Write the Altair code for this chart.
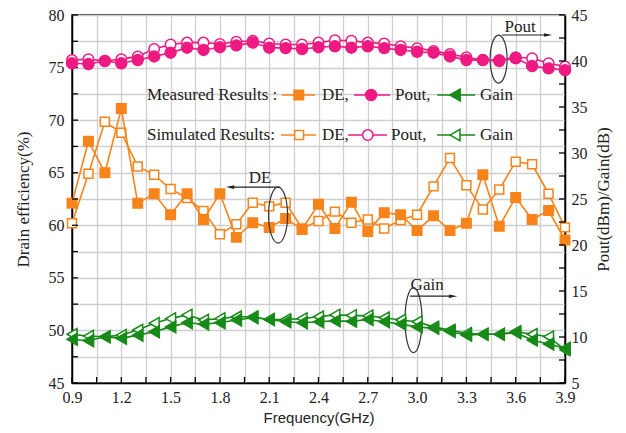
import altair as alt
import pandas as pd

# ---------------- data ----------------
freq = [0.9, 1.0, 1.1, 1.2, 1.3, 1.4, 1.5, 1.6, 1.7, 1.8, 1.9, 2.0, 2.1, 2.2, 2.3, 2.4,
        2.5, 2.6, 2.7, 2.8, 2.9, 3.0, 3.1, 3.2, 3.3, 3.4, 3.5, 3.6, 3.7, 3.8, 3.9]
de_meas = [62.1, 68.0, 65.0, 71.1, 62.1, 63.0, 61.0, 63.0, 60.55, 63.0, 58.85, 60.25, 59.8, 60.65, 59.6, 62.0,
           59.7, 62.2, 59.4, 61.2, 61.0, 59.5, 60.9, 59.5, 60.2, 64.8, 59.9, 62.65, 60.55, 61.4, 58.6]
de_sim = [60.2, 64.9, 69.85, 68.8, 65.6, 64.8, 63.45, 62.6, 61.35, 59.15, 60.1, 62.15, 61.8, 62.15, 59.7, 60.4,
          61.3, 60.25, 60.55, 59.7, 60.5, 61.0, 63.7, 66.4, 63.8, 61.5, 63.4, 66.05, 65.8, 63.0, 59.8]
pout_meas = [39.75, 39.67, 40.0, 39.75, 40.1, 40.5, 40.9, 41.45, 41.2, 41.5, 41.7, 42.0, 41.45, 41.4, 41.3, 41.5,
             41.6, 41.45, 41.6, 41.4, 41.2, 41.0, 40.9, 40.5, 40.1, 40.1, 40.0, 40.3, 39.45, 39.2, 39.0]
pout_sim = [40.1, 40.2, 40.0, 40.2, 40.5, 41.3, 41.8, 42.0, 42.0, 41.85, 42.1, 42.2, 41.9, 41.8, 41.8, 42.0,
            42.25, 42.2, 42.0, 41.9, 41.6, 41.4, 41.1, 40.75, 40.4, 40.1, 40.1, 40.4, 40.3, 39.75, 39.4]
gain_meas = [9.75, 9.6, 10.03, 9.85, 10.2, 10.57, 11.1, 11.55, 11.4, 11.55, 11.85, 12.1, 11.9, 11.65, 11.55, 11.65,
             11.75, 11.7, 11.9, 11.66, 11.4, 11.1, 10.94, 10.6, 10.2, 10.3, 10.3, 10.47, 9.67, 9.24, 8.77]
gain_sim = [10.3, 10.1, 10.03, 10.2, 10.76, 11.5, 12.0, 12.4, 11.85, 12.0, 12.2, 12.2, 11.9, 11.9, 12.0, 12.2,
            12.4, 12.35, 12.3, 12.1, 11.85, 11.66, 11.1, 10.76, 10.4, 10.3, 10.3, 10.6, 10.3, 10.03, 8.6]

x_ticks = [0.9, 1.05, 1.2, 1.35, 1.5, 1.65, 1.8, 1.95, 2.1, 2.25, 2.4, 2.55, 2.7, 2.85, 3.0, 3.15,
           3.3, 3.45, 3.6, 3.75, 3.9]
left_ticks = [45, 47.5, 50, 52.5, 55, 57.5, 60, 62.5, 65, 67.5, 70, 72.5, 75, 77.5, 80]
right_ticks = [5, 7.5, 10, 12.5, 15, 17.5, 20, 22.5, 25, 27.5, 30, 32.5, 35, 37.5, 40, 42.5, 45]

df = pd.DataFrame({"freq": freq, "de_meas": de_meas, "de_sim": de_sim,
                   "pout_meas": pout_meas, "pout_sim": pout_sim,
                   "gain_meas": gain_meas, "gain_sim": gain_sim})

# ---------------- style ----------------
W, H = 493, 368
SERIF = "Liberation Serif"
SANS = "Liberation Sans"
ORANGE = "#F7841A"
PINK = "#EE1A82"
GREEN = "#178A17"
INK = "#222222"

xscale = alt.Scale(domain=[0.9, 3.9], nice=False, zero=False)
lscale = alt.Scale(domain=[45, 80], nice=False, zero=False)
rscale = alt.Scale(domain=[5, 45], nice=False, zero=False)

x_axis = alt.Axis(values=x_ticks, grid=True, ticks=False, tickSize=0, labelFlush=False,
                  labelExpr="(round(datum.value*100) - 90) % 30 == 0 ? format(datum.value, '.1f') : ''",
                  labelPadding=6, title="Frequency(GHz)", titleFont=SANS, titleFontSize=15,
                  titlePadding=5)
l_axis = alt.Axis(values=left_ticks, grid=True, ticks=False, tickSize=0, labelFlush=False,
                  labelExpr="datum.value % 5 == 0 ? format(datum.value, 'd') : ''",
                  labelPadding=8, title="Drain efficiency(%)", titleFontSize=17, titlePadding=16)
r_axis = alt.Axis(values=right_ticks, grid=False, ticks=False, tickSize=0, orient="right",
                  labelFlush=False,
                  labelExpr="datum.value % 5 == 0 ? format(datum.value, 'd') : ''",
                  labelPadding=6, title="Pout(dBm)/Gain(dB)", titleFontSize=17,
                  titleAngle=270, titleBaseline="top", titlePadding=8)


def XL(field):
    return alt.X(f"{field}:Q", scale=xscale, axis=x_axis)


def YL(field):
    return alt.Y(f"{field}:Q", scale=lscale, axis=l_axis)


def YR(field):
    return alt.Y(f"{field}:Q", scale=rscale, axis=r_axis)


def series(field, color, shape, filled, size, yfun):
    base = alt.Chart(df).encode(x=XL("freq"), y=yfun(field))
    line = base.mark_line(color=color, strokeWidth=1.6)
    pts = base.mark_point(shape=shape, filled=True, fill=color if filled else "white",
                          stroke=color, strokeWidth=1.5, size=size, opacity=1)
    return [line, pts]


def ellipse_path(ratio):
    k = 0.5523
    rx = ratio
    return (f"M0,-1 C{k*rx:.4f},-1 {rx:.4f},{-k:.4f} {rx:.4f},0 "
            f"C{rx:.4f},{k:.4f} {k*rx:.4f},1 0,1 "
            f"C{-k*rx:.4f},1 {-rx:.4f},{k:.4f} {-rx:.4f},0 "
            f"C{-rx:.4f},{-k:.4f} {-k*rx:.4f},-1 0,-1 Z")


ARROW_R = "M-1,-0.42 L1,0 L-1,0.42 Z"
ARROW_L = "M1,-0.42 L-1,0 L1,0.42 Z"

# ---------------- left group (DE) ----------------
left_layers = []
left_layers += series("de_sim", ORANGE, "square", False, 80, YL)
left_layers += series("de_meas", ORANGE, "square", True, 90, YL)

lt = pd.DataFrame({"v": left_ticks})
left_layers.append(alt.Chart(lt).mark_rule(color="black", strokeWidth=1.3).encode(
    y=YL("v"), x=alt.value(0), x2=alt.value(6)))
bt = pd.DataFrame({"v": x_ticks})
left_layers.append(alt.Chart(bt).mark_rule(color="black", strokeWidth=1.3).encode(
    x=XL("v"), y=alt.value(H - 6), y2=alt.value(H)))

# annotations (positions in data coordinates of the left axis)
ann_text = pd.DataFrame({"x": [3.627, 2.044, 3.061], "y": [78.86, 64.49, 54.31],
                         "t": ["Pout", "DE", "Gain"]})
left_layers.append(alt.Chart(ann_text).mark_text(font=SERIF, fontSize=17, color=INK,
                                                 baseline="middle", align="center").encode(
    x=XL("x"), y=YL("y"), text="t:N"))

ann_arrow = pd.DataFrame({"x": [3.517, 2.166, 2.957], "x2": [3.797, 1.862, 3.219],
                          "y": [78.1, 63.63, 53.26], "shape": [ARROW_R, ARROW_L, ARROW_R]})
left_layers.append(alt.Chart(ann_arrow).mark_rule(color=INK, strokeWidth=1.2).encode(
    x=XL("x"), x2="x2:Q", y=YL("y")))
left_layers.append(alt.Chart(ann_arrow).mark_point(filled=True, color=INK, size=70, opacity=1).encode(
    x=XL("x2"), y=YL("y"), shape=alt.Shape("shape:N", scale=None)))

ell = pd.DataFrame({"x": [3.496, 2.154, 2.978], "y": [75.81, 60.97, 50.98],
                    "shape": [ellipse_path(17 / 48), ellipse_path(19 / 56), ellipse_path(17 / 65)],
                    "size": [48 ** 2, 56 ** 2, 65 ** 2]})
left_layers.append(alt.Chart(ell).mark_point(filled=False, color="#333333", strokeWidth=1.2,
                                             opacity=1).encode(
    x=XL("x"), y=YL("y"),
    shape=alt.Shape("shape:N", scale=None), size=alt.Size("size:Q", scale=None)))

# manual legend
leg_text = pd.DataFrame({
    "x": [1.356, 2.421, 2.866, 3.383, 1.356, 2.421, 2.841, 3.383],
    "y": [72.39] * 4 + [68.58] * 4,
    "t": ["Measured Results :", "DE,", "Pout,", "Gain", "Simulated Results:", "DE,", "Pout,", "Gain"]})
left_layers.append(alt.Chart(leg_text).mark_text(font=SERIF, fontSize=17, color=INK,
                                                baseline="middle", align="left").encode(
    x=XL("x"), y=YL("y"), text="t:N"))

leg_lines = pd.DataFrame({
    "x": [2.178, 2.616, 3.122, 2.172, 2.580, 3.122],
    "x2": [2.379, 2.835, 3.353, 2.385, 2.817, 3.353],
    "y": [72.39] * 3 + [68.58] * 3,
    "c": [ORANGE, PINK, GREEN, ORANGE, PINK, GREEN]})
left_layers.append(alt.Chart(leg_lines).mark_rule(strokeWidth=1.6).encode(
    x=XL("x"), x2="x2:Q", y=YL("y"), color=alt.Color("c:N", scale=None)))

leg_marks = [
    (2.28, 72.39, ORANGE, "square", True, 90),
    (2.72, 72.39, PINK, "circle", True, 120),
    (3.231, 72.39, GREEN, "triangle-left", True, 140),
    (2.282, 68.58, ORANGE, "square", False, 80),
    (2.70, 68.58, PINK, "circle", False, 110),
    (3.231, 68.58, GREEN, "triangle-left", False, 130),
]
for mx, my, mc, ms, mf, msz in leg_marks:
    left_layers.append(alt.Chart(pd.DataFrame({"x": [mx], "y": [my]})).mark_point(
        shape=ms, filled=True, fill=mc if mf else "white", stroke=mc, strokeWidth=1.5,
        size=msz, opacity=1).encode(x=XL("x"), y=YL("y")))

left = alt.layer(*left_layers)

# ---------------- right group (Pout, Gain) ----------------
right_layers = []
right_layers += series("pout_sim", PINK, "circle", False, 110, YR)
right_layers += series("pout_meas", PINK, "circle", True, 120, YR)
right_layers += series("gain_sim", GREEN, "triangle-left", False, 130, YR)
right_layers += series("gain_meas", GREEN, "triangle-left", True, 140, YR)
rt = pd.DataFrame({"v": right_ticks})
right_layers.append(alt.Chart(rt).mark_rule(color="black", strokeWidth=1.3).encode(
    y=YR("v"), x=alt.value(W - 6), x2=alt.value(W)))
right = alt.layer(*right_layers)

chart = alt.layer(left, right).resolve_scale(y="independent").properties(
    width=W, height=H,
    autosize=alt.AutoSizeParams(type="none"),
    padding={"left": 64, "top": 7, "right": 53, "bottom": 50},
).configure_view(stroke="black", strokeWidth=1.5).configure_axis(
    labelFont=SERIF, labelFontSize=16, labelColor=INK,
    titleFont=SERIF, titleFontWeight="normal", titleColor=INK,
    domainColor="black", domainWidth=1.5,
    gridColor="#cfcfcf", gridWidth=1.3,
)

chart.save("out.html", embed_options={"renderer": "svg", "actions": False})
